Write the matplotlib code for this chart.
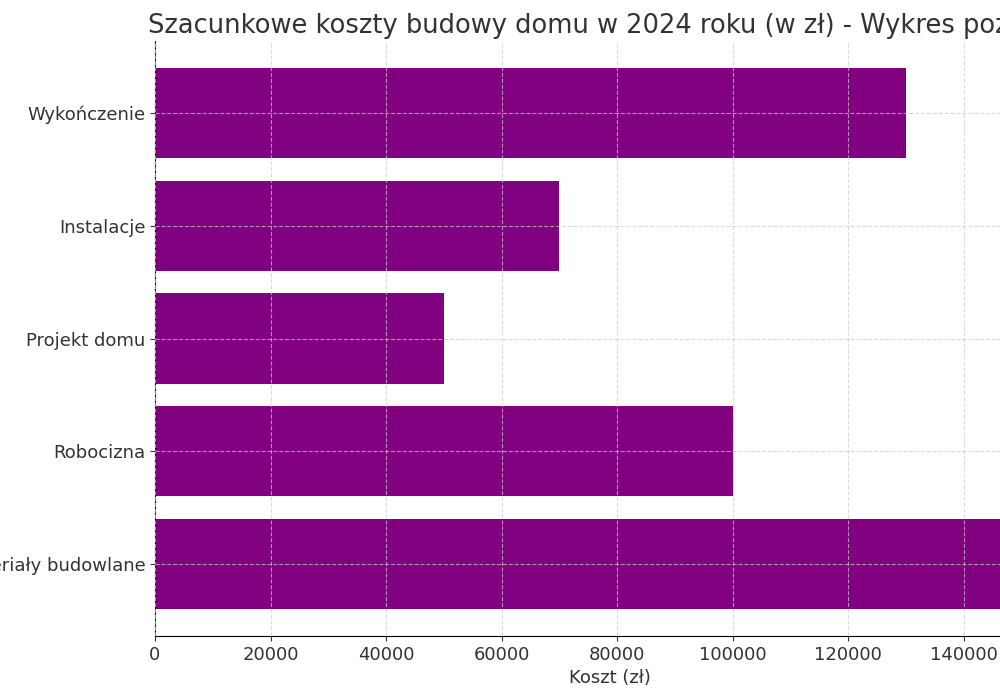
import matplotlib
matplotlib.use("Agg")
import matplotlib.pyplot as plt

plt.rcParams['font.family'] = ['DejaVu Sans']

categories = ["Materiały budowlane", "Robocizna", "Projekt domu", "Instalacje", "Wykończenie"]
costs = [150000, 100000, 50000, 70000, 130000]

fig = plt.figure(figsize=(10, 7), dpi=100)
ax = fig.add_axes([0.155, 64/700, 0.91, 595/700])
ax.barh(categories, costs, color="purple", height=0.8)
ax.set_xlim(0, 157500)
ax.set_xlabel("Koszt (zł)", fontsize=13, color="#333333")
ax.set_title("Szacunkowe koszty budowy domu w 2024 roku (w zł) - Wykres poziomy",
             fontsize=18.5, color="#333333", pad=6)
ax.grid(True, linestyle="--", color="#cccccc", linewidth=0.8, alpha=0.7)
ax.set_axisbelow(False)
ax.tick_params(labelsize=13, colors="#333333")
for s in ["top", "right"]:
    ax.spines[s].set_visible(False)
fig.savefig("out.png", dpi=100)
